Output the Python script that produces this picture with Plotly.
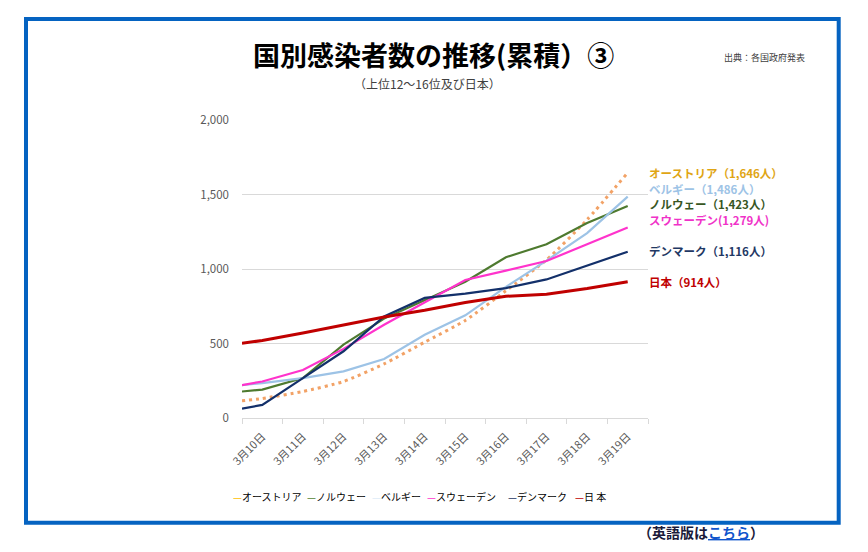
import plotly.graph_objects as go

# ---------------- data ----------------
date_labels = ["3月10日", "3月11日", "3月12日", "3月13日", "3月14日",
               "3月15日", "3月16日", "3月17日", "3月18日", "3月19日"]
# x positions: a leading point at the left edge of the first category, then one per day
x_pos = [-0.5, 0, 1, 2, 3, 4, 5, 6, 7, 8, 9]

austria = [115, 131, 178, 245, 363, 509, 655, 854, 1061, 1331, 1646]
norway = [178, 191, 268, 493, 667, 790, 914, 1079, 1166, 1308, 1423]
belgium = [221, 234, 268, 313, 396, 559, 689, 880, 1056, 1241, 1486]
sweden = [221, 245, 322, 464, 626, 775, 926, 989, 1054, 1166, 1279]
denmark = [63, 88, 268, 448, 682, 806, 835, 872, 930, 1022, 1116]
japan = [502, 520, 570, 626, 678, 723, 775, 817, 831, 869, 914]

series_names = ["オーストリア", "ノルウェー", "ベルギー", "スウェーデン", "デンマーク", "日本"]
end_labels = ["オーストリア（1,646人）", "ノルウェー（1,423人）", "ベルギー（1,486人）",
              "スウェーデン(1,279人)", "デンマーク（1,116人）", "日本（914人）"]
legend_labels = ["オーストリア", "ノルウェー", "ベルギー", "スウェーデン", "デンマーク", "日 本"]

# ---------------- styles ----------------
FONT = "Noto Sans CJK JP, Noto Sans, sans-serif"
line_colors = ["#F2A266", "#4E7A2F", "#9DC3E6", "#FF33CC", "#13306A", "#C00000"]
label_colors = ["#E0A514", "#375623", "#9DC3E6", "#F032C8", "#1F3864", "#C00000"]
legend_colors = ["#FFC000", "#548235", "#DEEBF7", "#FF33CC", "#1F3864", "#C00000"]
line_widths = [3, 2.2, 2.2, 2.2, 2.2, 3]

W, H = 868, 552
L, R, T, B = 242, 220, 120, 134
PW, PH = W - L - R, H - T - B


def px(x):
    return (x - L) / PW


def py(y):
    return (H - B - y) / PH


fig = go.Figure()
all_series = [austria, norway, belgium, sweden, denmark, japan]
for i, (name, vals) in enumerate(zip(series_names, all_series)):
    if i == 0:
        line = dict(color=line_colors[i], width=line_widths[i], dash="3px,4px",
                    shape="spline", smoothing=0.6)
    else:
        line = dict(color=line_colors[i], width=line_widths[i])
    fig.add_trace(go.Scatter(x=x_pos, y=vals, mode="lines", name=name,
                             line=line, showlegend=False, hoverinfo="skip"))

annotations = []
# title & subtitle & source
annotations.append(dict(text="<b>国別感染者数の推移(累積）③</b>", x=px(433), y=py(54),
                        xref="paper", yref="paper", xanchor="center", yanchor="middle",
                        showarrow=False, font=dict(family=FONT, size=27, color="#000000")))
annotations.append(dict(text="（上位12～16位及び日本）", x=px(427), y=py(84),
                        xref="paper", yref="paper", xanchor="center", yanchor="middle",
                        showarrow=False, font=dict(family=FONT, size=12, color="#404040")))
annotations.append(dict(text="出典：各国政府発表", x=px(722), y=py(58),
                        xref="paper", yref="paper", xanchor="left", yanchor="middle",
                        showarrow=False, font=dict(family=FONT, size=9, color="#404040")))

# end labels
end_y = [172.5, 203.5, 188, 219, 250, 281]
for lab, col, yy in zip(end_labels, label_colors, end_y):
    annotations.append(dict(text="<b>" + lab + "</b>", x=px(647), y=py(yy),
                            xref="paper", yref="paper", xanchor="left", yanchor="middle",
                            showarrow=False, height=15,
                            font=dict(family=FONT, size=11.5, color=col)))

# legend (compact, like the original)
leg_x = [231, 305, 370, 425, 506, 573]
for lab, col, xx in zip(legend_labels, legend_colors, leg_x):
    annotations.append(dict(text="<span style='color:%s'>—</span>%s" % (col, lab),
                            x=px(xx), y=py(496), xref="paper", yref="paper",
                            xanchor="left", yanchor="middle", showarrow=False,
                            font=dict(family=FONT, size=10, color="#000000")))

# english link
annotations.append(dict(text="<b>（英語版は<span style='color:#1155CC'><u>こちら</u></span>）</b>",
                        x=px(636), y=py(532), xref="paper", yref="paper",
                        xanchor="left", yanchor="middle", showarrow=False,
                        font=dict(family=FONT, size=14, color="#1A1A3A")))

shapes = [dict(type="rect", xref="paper", yref="paper",
               x0=px(26), x1=px(838.7), y0=py(522.8), y1=py(19),
               line=dict(color="#0563C1", width=4), fillcolor="rgba(0,0,0,0)")]

fig.update_layout(
    width=W, height=H,
    margin=dict(l=L, r=R, t=T, b=B, autoexpand=False),
    paper_bgcolor="white", plot_bgcolor="white",
    font=dict(family=FONT, color="#595959"),
    annotations=annotations, shapes=shapes,
    showlegend=False,
)
fig.update_xaxes(
    range=[-0.5, 9.5], tickmode="array", tickvals=list(range(10)), ticktext=date_labels,
    tickangle=-45, ticks="", showgrid=False, zeroline=False,
    showline=True, linecolor="#D9D9D9", linewidth=1,
    tickfont=dict(family=FONT, size=11, color="#595959"),
    ticklabelstandoff=7, automargin=False,
    minor=dict(tickmode="array", tickvals=[i - 0.5 for i in range(11)],
               ticks="outside", ticklen=5, tickcolor="#D9D9D9", tickwidth=1, showgrid=False),
)
fig.update_yaxes(
    range=[0, 2000], tickmode="linear", tick0=0, dtick=500, tickformat=",",
    showgrid=True, gridcolor="#D9D9D9", gridwidth=1, zeroline=False,
    showline=False, ticks="", ticklabelstandoff=12,
    tickfont=dict(family=FONT, size=11.5, color="#595959"), automargin=False,
)

fig.write_html("out.html")
